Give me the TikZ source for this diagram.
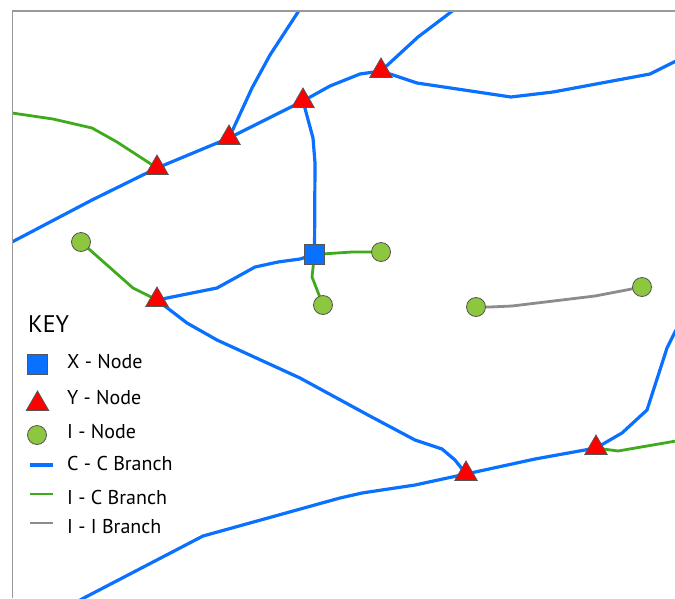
\documentclass[tikz,border=0pt]{standalone}
\usepackage{fontspec}
\newfontfamily\keyfont{PT Sans}
\usetikzlibrary{shapes.geometric,positioning,backgrounds}
\definecolor{ccblue}{RGB}{10,112,255}
\definecolor{icgreen}{RGB}{62,170,28}
\definecolor{iigray}{RGB}{140,140,140}
\definecolor{ifill}{RGB}{141,198,63}
\definecolor{outline}{RGB}{85,85,85}
\tikzset
{
    xnode/.style    = {rectangle, draw=outline, fill=ccblue, line width=0.8pt, minimum size=20pt, inner sep=0pt},
    ynode/.style    = {regular polygon, regular polygon sides=3, draw=outline, fill=red, line width=0.8pt, minimum size=26pt, inner sep=0pt},
    inode/.style    = {circle, draw=outline, fill=ifill, line width=0.8pt, minimum size=19pt, inner sep=0pt},
    ccbranch/.style = {ccblue, line width=3.2pt, line join=round},
    icbranch/.style = {icgreen, line width=2.8pt, line join=round},
    iibranch/.style = {iigray, line width=2.8pt, line join=round},
    keytext/.style  = {font=\keyfont\fontsize{20}{24}\selectfont, inner sep=0pt, anchor=west},
    frame/.style    = {draw=black!40, line width=1.5pt}
}

\begin{document}
\begin{tikzpicture}[x=1pt, y=-1pt]
	\useasboundingbox (0,0) rectangle (675,598);
	\draw [frame] (12.5,598) |- (675,11);

	% network nodes
	\node (xn) [xnode] at (314.5,254.5) {};
	\node (y1) [ynode] at (157,168) {};
	\node (y2) [ynode] at (229,138) {};
	\node (y3) [ynode] at (303,101) {};
	\node (y4) [ynode] at (381,71) {};
	\node (y5) [ynode] at (157,300) {};
	\node (y6) [ynode] at (466,474) {};
	\node (y7) [ynode] at (596,448) {};
	\node (i1) [inode] at (81,242) {};
	\node (i2) [inode] at (381,252) {};
	\node (i3) [inode] at (323,305) {};
	\node (i4) [inode] at (476,307) {};
	\node (i5) [inode] at (642,287) {};

	% branches
	\begin{scope}[on background layer]
	\clip (12.5,11) rectangle (675,598);
	\draw [ccbranch] (12,242) -- (92,200) -- (y1.center) -- (y2.center) -- (y3.center) -- (330,86) -- (360,74) -- (y4.center) -- (417,83) -- (511,97) -- (553,92) -- (650,74) -- (676,61);
	\draw [ccbranch] (y2.center) -- (252,88) -- (270,55) -- (300,9);
	\draw [ccbranch] (y4.center) -- (418,37) -- (455,9);
	\draw [ccbranch] (y3.center) -- (313,138) -- (315,163) -- (xn.center);
	\draw [ccbranch] (xn.center) -- (300,259) -- (278,262) -- (255,267) -- (217,288) -- (y5.center);
	\draw [ccbranch] (y5.center) -- (187,323) -- (217,340) -- (300,378) -- (368,415) -- (415,440) -- (442,449) -- (455,460) -- (y6.center);
	\draw [ccbranch] (80,600) -- (203,536) -- (340,498) -- (362,493) -- (415,485) -- (y6.center) -- (535,459) -- (y7.center) -- (622,433) -- (647,410) -- (667,348) -- (676,330);
	\draw [icbranch] (12,113) -- (53,119) -- (92,128) -- (117,142) -- (137,155) -- (y1.center);
	\draw [icbranch] (i1.center) -- (133,288) -- (y5.center);
	\draw [icbranch] (xn.center) -- (352,252) -- (i2.center);
	\draw [icbranch] (xn.center) -- (312,277) -- (i3.center);
	\draw [icbranch] (y7.center) -- (618,451) -- (676,441);
	\draw [iibranch] (i4.center) -- (490,307) -- (512,306) -- (595,296) -- (i5.center);
	\end{scope}

	% key
	\node (key) [keytext, font=\keyfont\fontsize{24}{28}\selectfont] at (28,324) {KEY};
	\node (kx) [xnode] at (37,364) {};
	\node (ky) [ynode] at (37.5,404) {};
	\node (ki) [inode] at (37,435) {};
	\coordinate (kcc) at (30,465);
	\coordinate (kic) at (30,494);
	\coordinate (kii) at (30,523);
	\draw [ccbranch] (kcc) -- ++(23,0);
	\draw [icbranch] (kic) -- ++(23,0);
	\draw [iibranch] (kii) -- ++(23,0);
	\node (lx)  [keytext] at (67,362) {X - Node};
	\node (ly)  [keytext] at (67,398) {Y - Node};
	\node (li)  [keytext] at (67,432) {I - Node};
	\node (lcc) [keytext] at (67,463) {C - C Branch};
	\node (lic) [keytext] at (67,497) {I - C Branch};
	\node (lii) [keytext] at (67,527) {I - I Branch};
\end{tikzpicture}
\end{document}
